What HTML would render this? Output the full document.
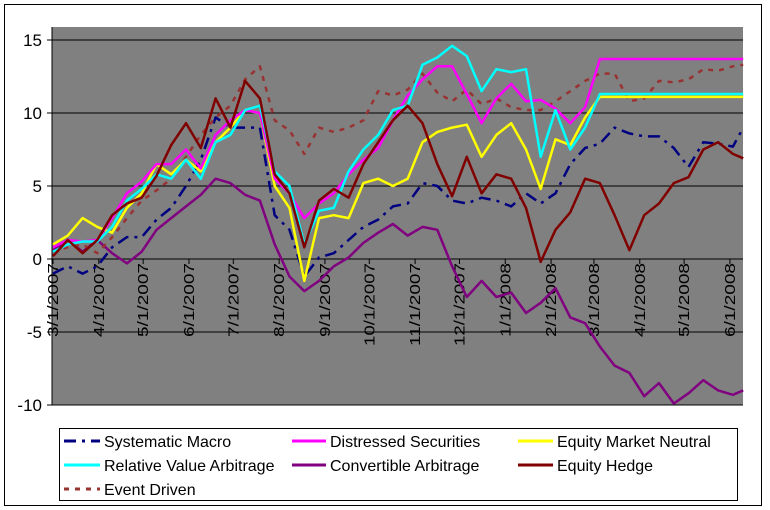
<!DOCTYPE html>
<html><head><meta charset="utf-8"><style>
body{margin:0;background:#fff;font-family:"Liberation Sans",Arial,sans-serif;}
svg{display:block}
</style></head><body>
<svg id="chart" width="770" height="510" xmlns="http://www.w3.org/2000/svg">
<rect x="4.5" y="4.5" width="757" height="501" fill="#fff" stroke="#000" stroke-width="1"/>
<rect x="52" y="27" width="691" height="378" fill="#808080"/>
<g id="grid"></g>
<g id="yaxis"></g>
<g id="xaxis"></g>
<g id="series"></g>
<g>
<rect x="59.5" y="428.5" width="678" height="72" fill="#fff" stroke="#000"/>
<g font-size="16" fill="#000">
<g><line x1="64" y1="441" x2="100" y2="441" stroke="#000080" stroke-width="3" stroke-dasharray="12,6,3,6"/><text x="104" y="447">Systematic Macro</text></g>
<g><line x1="292" y1="441" x2="326" y2="441" stroke="#FF00FF" stroke-width="3"/><text x="330" y="447">Distressed Securities</text></g>
<g><line x1="518" y1="441" x2="553" y2="441" stroke="#FFFF00" stroke-width="3"/><text x="557" y="447">Equity Market Neutral</text></g>
<g><line x1="64" y1="465" x2="100" y2="465" stroke="#00FFFF" stroke-width="3"/><text x="104" y="471">Relative Value Arbitrage</text></g>
<g><line x1="292" y1="465" x2="326" y2="465" stroke="#800080" stroke-width="3"/><text x="330" y="471">Convertible Arbitrage</text></g>
<g><line x1="518" y1="465" x2="553" y2="465" stroke="#800000" stroke-width="3"/><text x="557" y="471">Equity Hedge</text></g>
<g><line x1="64" y1="489" x2="100" y2="489" stroke="#993333" stroke-width="3" stroke-dasharray="5,6"/><text x="104" y="495">Event Driven</text></g>
</g></g>
</svg>
<script>
const days=[0,10,20,30,40,50,60,70,80,90,100,110,120,130,140,150,160,170,180,190,200,210,220,230,240,250,260,270,280,290,300,310,320,330,340,350,360,370,380,390,400,410,420,430,440,450,460,467];
const systematicMacro=[-1.0,-0.5,-1.0,-0.5,0.8,1.5,1.5,2.7,3.5,5.0,6.8,9.7,9.0,9.0,9.0,3.0,2.0,-1.2,0.1,0.4,1.3,2.2,2.7,3.6,3.8,5.2,5.0,4.0,3.8,4.2,4.0,3.6,4.5,3.8,4.5,6.5,7.6,7.9,9.0,8.6,8.4,8.4,7.6,6.3,8.0,7.9,7.7,9.0];
const distressed=[0.8,1.3,1.2,1.3,2.8,4.5,5.3,6.5,6.5,7.5,6.2,8.5,9.5,10.2,10.0,5.5,4.5,2.8,3.8,4.5,5.8,6.8,7.6,9.5,11.2,12.3,13.2,13.2,11.3,9.3,11.0,12.0,10.8,10.9,10.3,9.3,10.4,13.7,13.7,13.7,13.7,13.7,13.7,13.7,13.7,13.7,13.7,13.7];
const equityMarketNeutral=[1.0,1.6,2.8,2.2,1.8,3.5,4.5,6.5,5.8,6.8,6.0,8.0,9.0,10.2,10.0,5.0,3.5,-1.5,2.8,3.0,2.8,5.2,5.5,5.0,5.5,8.0,8.7,9.0,9.2,7.0,8.5,9.3,7.5,4.8,8.2,7.8,9.7,11.1,11.1,11.1,11.1,11.1,11.1,11.1,11.1,11.1,11.1,11.1];
const relativeValue=[0.5,1.0,1.2,1.2,2.2,4.0,4.8,5.8,5.5,6.8,5.5,8.0,8.5,10.2,10.5,6.0,5.0,1.0,3.3,3.5,6.0,7.5,8.5,10.2,10.5,13.3,13.8,14.6,13.9,11.5,13.0,12.8,13.0,7.0,10.2,7.5,9.0,11.3,11.3,11.3,11.3,11.3,11.3,11.3,11.3,11.3,11.3,11.3];
const convertibleArb=[0.6,1.3,0.5,1.3,0.4,-0.3,0.5,2.0,2.8,3.6,4.4,5.5,5.2,4.4,4.0,1.0,-1.2,-2.2,-1.5,-0.5,0.1,1.1,1.8,2.4,1.6,2.2,2.0,-0.5,-2.6,-1.5,-2.6,-2.3,-3.7,-3.0,-2.0,-4.0,-4.4,-6.0,-7.3,-7.8,-9.4,-8.5,-9.9,-9.2,-8.3,-9.0,-9.3,-9.0];
const equityHedge=[0.2,1.3,0.4,1.3,3.0,3.8,4.2,5.7,7.8,9.3,7.6,11.0,9.0,12.2,11.0,5.8,4.5,0.8,4.0,4.8,4.2,6.5,8.0,9.5,10.5,9.3,6.5,4.3,7.0,4.5,5.8,5.5,3.5,-0.2,2.0,3.2,5.5,5.2,3.0,0.6,3.0,3.8,5.2,5.6,7.5,8.0,7.2,6.9];
const eventDriven=[0.5,0.8,1.0,0.4,1.5,2.8,4.0,4.7,5.5,7.0,8.5,9.7,10.5,12.3,13.2,9.5,8.8,7.2,9.0,8.7,9.0,9.5,11.5,11.2,11.6,12.7,11.4,10.8,11.6,10.6,11.0,10.4,10.2,10.2,10.8,11.5,12.2,12.7,12.7,10.8,11.0,12.2,12.1,12.3,13.0,12.9,13.2,13.3];
const yTicks=[15,10,5,0,-5,-10];
const xTickDays=[0,31,61,92,122,153,184,214,245,275,306,337,366,397,427,458];
const xTickLabels=["3/1/2007","4/1/2007","5/1/2007","6/1/2007","7/1/2007","8/1/2007","9/1/2007","10/1/2007","11/1/2007","12/1/2007","1/1/2008","2/1/2008","3/1/2008","4/1/2008","5/1/2008","6/1/2008"];

const NS="http://www.w3.org/2000/svg";
const xS=d=>53+d*1.478;
const yS=v=>259-v*14.6;
function mk(t,a,p){const e=document.createElementNS(NS,t);for(const k in a)e.setAttribute(k,a[k]);p.appendChild(e);return e;}
const grid=document.getElementById('grid'),ya=document.getElementById('yaxis'),xa=document.getElementById('xaxis'),sg=document.getElementById('series');
yTicks.forEach(v=>{
  const l=mk('line',{x1:52,x2:743,y1:yS(v),y2:yS(v),stroke:'#000','stroke-width':1},grid);
  
  
  const tk=mk('line',{x1:47,x2:52,y1:yS(v),y2:yS(v),stroke:'#000'},ya);
  
  
  const t=mk('text',{x:42,y:yS(v)+6,'text-anchor':'end','font-size':17},ya);
  t.textContent=v;
  
  
});
mk('line',{x1:52,x2:52,y1:27,y2:405,stroke:'#000'},ya);
xTickDays.forEach((d,i)=>{
  const x=xS(d);
  const tk=mk('line',{x1:x,x2:x,y1:259,y2:264,stroke:'#000'},xa);
  
  
  const lbl=xTickLabels[i];
  const t=mk('text',{x:0,y:0,'text-anchor':'end','font-size':15,textLength:(lbl.length*9.2).toFixed(0),lengthAdjust:'spacingAndGlyphs',transform:`translate(${x+5},${263}) rotate(-90)`},xa);
  t.textContent=lbl;
  
  
});
const defs=[
 [convertibleArb,'#800080',null,'series-convertible-arbitrage'],
 [systematicMacro,'#000080','12,6,3,6','series-systematic-macro'],
 [eventDriven,'#993333','5,6','series-event-driven'],
 [equityMarketNeutral,'#FFFF00',null,'series-equity-market-neutral'],
 [distressed,'#FF00FF',null,'series-distressed-securities'],
 [relativeValue,'#00FFFF',null,'series-relative-value-arbitrage'],
 [equityHedge,'#800000',null,'series-equity-hedge']
];
defs.forEach(([vals,c,dash,name])=>{
  const pts=vals.map((v,i)=>xS(days[i]).toFixed(1)+','+yS(v).toFixed(1)).join(' ');
  const a={points:pts,fill:'none',stroke:c,'stroke-width':2.5,'stroke-linejoin':'round'};
  if(dash)a['stroke-dasharray']=dash;
  const p=mk('polyline',a,sg);
  
  
});
</script>
</body></html>
